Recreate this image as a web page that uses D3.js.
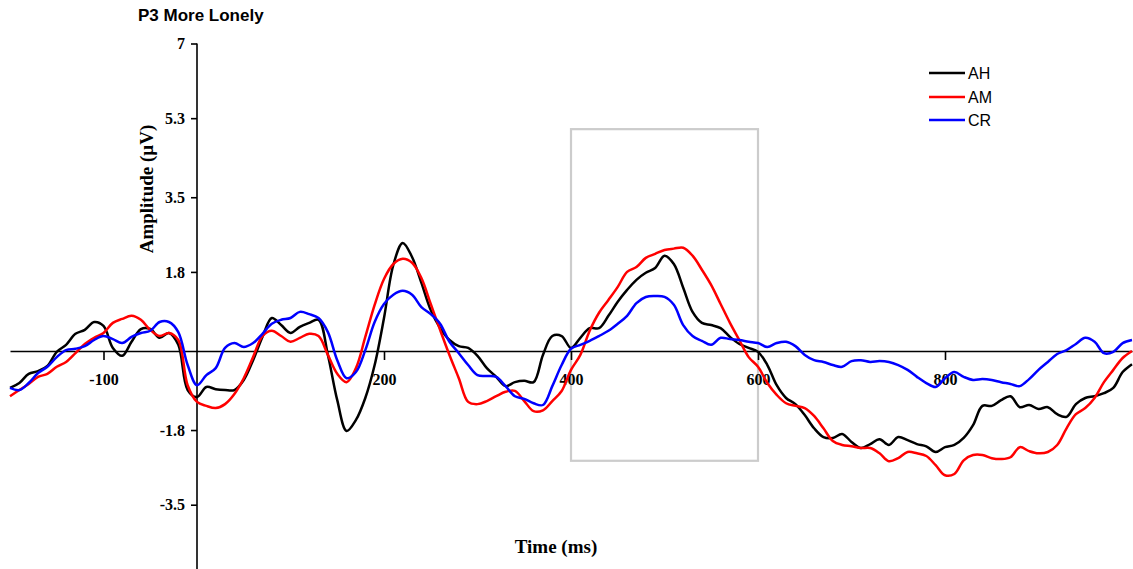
<!DOCTYPE html>
<html>
<head>
<meta charset="utf-8">
<script src="https://cdn.jsdelivr.net/npm/d3@7"></script>
<style>
  html, body { margin: 0; padding: 0; background: #fff; }
  svg { display: block; }
</style>
</head>
<body>
<svg id="chart" width="1133" height="569"></svg>
<script>
// ---------- DATA ----------
const title = "P3 More Lonely";
const xTitle = "Time (ms)";
const yTitle = "Amplitude (\u00B5V)";

// time points (ms), every 10 ms from -200 to 1000
const times = d3.range(-200, 1001, 10);

const seriesNames = ["AH", "AM", "CR"];
const seriesColors = ["#000000", "#ff0000", "#0000ff"];

const AH = [
  -0.84,-0.73,-0.52,-0.46,-0.34,-0.02,0.14,0.39,0.48,0.66,
  0.57,0.07,-0.11,0.21,0.50,0.50,0.30,0.41,0.14,-0.89,
  -1.05,-0.82,-0.87,-0.89,-0.89,-0.66,-0.21,0.32,0.75,0.59,
  0.41,0.55,0.64,0.71,-0.09,-1.12,-1.82,-1.57,-1.07,-0.32,
  0.75,1.96,2.46,2.14,1.55,0.93,0.52,0.25,0.11,0.07,
  -0.11,-0.39,-0.59,-0.80,-0.71,-0.68,-0.71,-0.09,0.34,0.34,
  0.07,0.30,0.52,0.52,0.80,1.12,1.39,1.62,1.78,1.89,
  2.17,1.98,1.44,0.89,0.64,0.59,0.52,0.32,0.16,0.07,
  -0.02,-0.32,-0.78,-1.07,-1.21,-1.46,-1.76,-1.96,-1.98,-1.89,
  -2.07,-2.21,-2.12,-2.01,-2.14,-1.96,-2.03,-2.12,-2.17,-2.30,
  -2.19,-2.14,-1.98,-1.69,-1.25,-1.25,-1.12,-1.03,-1.28,-1.23,
  -1.32,-1.28,-1.44,-1.50,-1.21,-1.07,-1.03,-0.96,-0.84,-0.48,
  -0.30
];
const AM = [
  -1.03,-0.89,-0.75,-0.59,-0.52,-0.36,-0.25,-0.05,0.16,0.30,
  0.41,0.64,0.73,0.80,0.71,0.48,0.34,0.41,0.25,-0.78,
  -1.16,-1.25,-1.30,-1.21,-0.98,-0.62,-0.14,0.34,0.46,0.34,
  0.21,0.30,0.39,0.34,-0.09,-0.52,-0.71,-0.39,0.32,1.05,
  1.64,1.98,2.10,2.01,1.66,1.07,0.48,-0.09,-0.62,-1.16,
  -1.21,-1.14,-1.03,-0.93,-0.91,-1.14,-1.37,-1.35,-1.14,-0.91,
  -0.43,-0.09,0.46,0.87,1.16,1.46,1.80,1.91,2.12,2.21,
  2.30,2.33,2.35,2.17,1.85,1.50,1.07,0.64,0.25,-0.14,
  -0.36,-0.73,-1.00,-1.19,-1.25,-1.30,-1.48,-1.76,-2.05,-2.14,
  -2.17,-2.21,-2.21,-2.33,-2.51,-2.44,-2.30,-2.33,-2.39,-2.60,
  -2.83,-2.80,-2.49,-2.37,-2.37,-2.44,-2.46,-2.42,-2.19,-2.28,
  -2.33,-2.30,-2.14,-1.76,-1.44,-1.30,-1.07,-0.71,-0.43,-0.16,
  0.00
];
const CR = [
  -0.84,-0.89,-0.73,-0.50,-0.36,-0.14,0.02,0.05,0.11,0.25,
  0.34,0.27,0.18,0.32,0.41,0.46,0.66,0.66,0.43,-0.32,
  -0.78,-0.55,-0.39,0.07,0.18,0.09,0.18,0.39,0.62,0.71,
  0.75,0.89,0.84,0.75,0.43,-0.21,-0.62,-0.48,0.02,0.66,
  1.07,1.28,1.37,1.28,1.00,0.84,0.62,0.21,-0.05,-0.32,
  -0.55,-0.57,-0.59,-0.80,-1.03,-1.09,-1.19,-1.23,-0.80,-0.32,
  0.05,0.14,0.23,0.34,0.46,0.62,0.80,1.09,1.23,1.25,
  1.23,1.05,0.59,0.34,0.23,0.14,0.30,0.27,0.25,0.21,
  0.18,0.09,0.18,0.21,0.11,-0.09,-0.21,-0.25,-0.32,-0.36,
  -0.23,-0.21,-0.25,-0.23,-0.25,-0.32,-0.43,-0.59,-0.73,-0.82,
  -0.62,-0.48,-0.59,-0.66,-0.64,-0.66,-0.71,-0.75,-0.80,-0.64,
  -0.43,-0.25,-0.07,0.02,0.16,0.30,0.21,-0.05,-0.02,0.18,
  0.25
];
const seriesValues = [AH, AM, CR];

const xTickValues = [-100, 200, 400, 600, 800];
const xTickLabels = ["-100", "200", "400", "600", "800"];
const yTickValues = [7, 5.3, 3.5, 1.8, -1.8, -3.5];
const yTickLabels = ["7", "5.3", "3.5", "1.8", "-1.8", "-3.5"];

// analysis window (ms, µV)
const windowTime = [400, 600];
const windowAmp = [-2.5, 5.05];

// ---------- CHART ----------
const svg = d3.select("#chart");
const x = d3.scaleLinear().domain([-200, 1000]).range([10, 1132]);
const y = d3.scaleLinear().domain([-5, 7]).range([570.6, 43.5]);

// analysis window rectangle
svg.append("rect")
  .attr("x", x(windowTime[0]))
  .attr("y", y(windowAmp[1]))
  .attr("width", x(windowTime[1]) - x(windowTime[0]))
  .attr("height", y(windowAmp[0]) - y(windowAmp[1]))
  .attr("fill", "none")
  .attr("stroke", "#cccccc")
  .attr("stroke-width", 2.2);

// x axis (at zero)
const xAxis = d3.axisBottom(x)
  .tickValues(xTickValues)
  .tickFormat((d, i) => xTickLabels[i])
  .tickSize(9)
  .tickSizeOuter(0);
const gx = svg.append("g")
  .attr("transform", `translate(0,${y(0)})`)
  .call(xAxis);
gx.select(".domain").attr("stroke", "#000").attr("stroke-width", 1.6);
gx.selectAll(".tick line").attr("stroke", "#000").attr("stroke-width", 1.6);
gx.selectAll(".tick text")
  .attr("y", 34)
  .attr("dy", 0)
  .style("font-family", "'Liberation Serif', 'Times New Roman', serif")
  .style("font-weight", "bold")
  .style("font-size", "16px")
  .attr("fill", "#000");

// y axis (at time zero)
const yAxis = d3.axisLeft(y)
  .tickValues(yTickValues)
  .tickFormat((d, i) => yTickLabels[i])
  .tickSize(6)
  .tickSizeOuter(0);
const gy = svg.append("g")
  .attr("transform", `translate(${x(0)},0)`)
  .call(yAxis);
gy.select(".domain").attr("d", `M0,${y(7)}V569`).attr("stroke", "#000").attr("stroke-width", 1.6);
gy.selectAll(".tick line").attr("stroke", "#000").attr("stroke-width", 1.6);
gy.selectAll(".tick text")
  .attr("x", -12)
  .style("font-family", "'Liberation Serif', 'Times New Roman', serif")
  .style("font-weight", "bold")
  .style("font-size", "16px")
  .attr("fill", "#000");

// series lines
const line = d3.line()
  .x((d, i) => x(times[i]))
  .y(d => y(d))
  .curve(d3.curveCatmullRom.alpha(0.5));

seriesValues.forEach((vals, k) => {
  svg.append("path")
    .datum(vals)
    .attr("d", line)
    .attr("fill", "none")
    .attr("stroke", seriesColors[k])
    .attr("stroke-width", 2.5)
    .attr("stroke-linejoin", "round");
});

// title
svg.append("text")
  .attr("x", 138)
  .attr("y", 21)
  .style("font-family", "'Liberation Sans', Arial, sans-serif")
  .style("font-weight", "bold")
  .style("font-size", "17px")
  .text(title);

// axis titles
svg.append("text")
  .attr("x", 556)
  .attr("y", 553)
  .attr("text-anchor", "middle")
  .style("font-family", "'Liberation Serif', 'Times New Roman', serif")
  .style("font-weight", "bold")
  .style("font-size", "19px")
  .text(xTitle);

svg.append("text")
  .attr("transform", "translate(153,189) rotate(-90)")
  .attr("text-anchor", "middle")
  .style("font-family", "'Liberation Serif', 'Times New Roman', serif")
  .style("font-weight", "bold")
  .style("font-size", "19px")
  .text(yTitle);

// legend
const legend = svg.append("g");
const legendY = [73, 97, 120];
seriesNames.forEach((name, k) => {
  legend.append("line")
    .attr("x1", 929).attr("x2", 965)
    .attr("y1", legendY[k]).attr("y2", legendY[k])
    .attr("stroke", seriesColors[k])
    .attr("stroke-width", 2.5);
  legend.append("text")
    .attr("x", 968)
    .attr("y", legendY[k] + 6)
    .style("font-family", "'Liberation Sans', Arial, sans-serif")
    .style("font-size", "16px")
    .text(name);
});
</script>
</body>
</html>
